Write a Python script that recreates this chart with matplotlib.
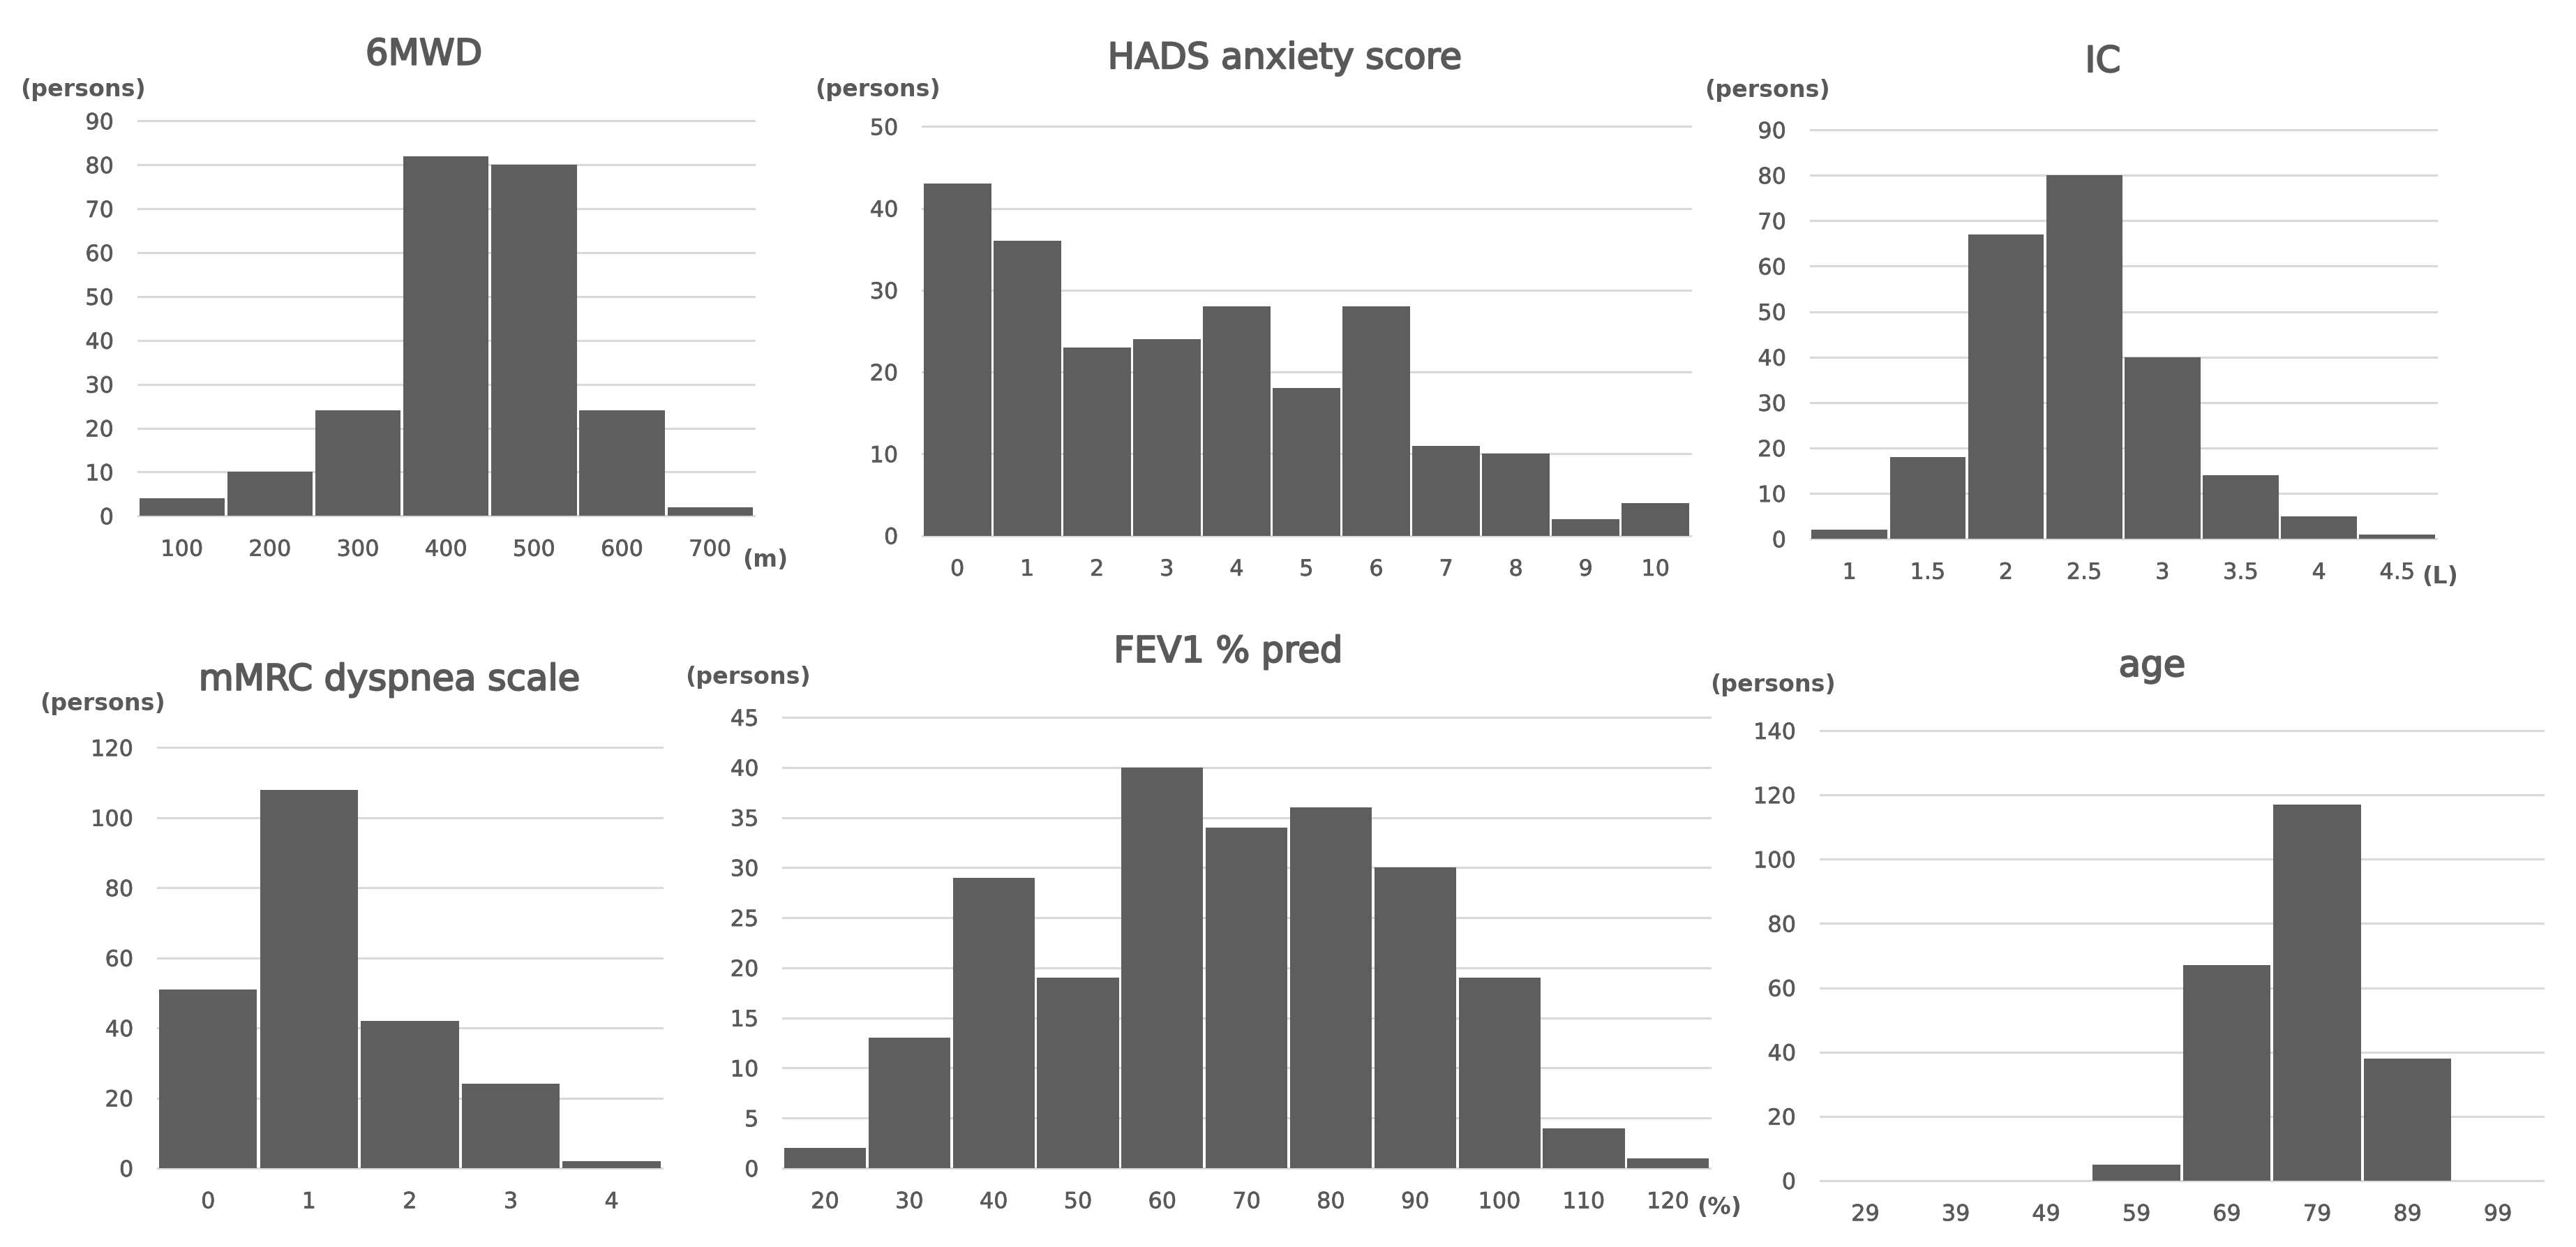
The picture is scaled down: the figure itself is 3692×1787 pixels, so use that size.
import matplotlib
matplotlib.use("Agg")
import matplotlib.pyplot as plt
import matplotlib.patheffects as pe
import numpy as np

# ---------------- data ----------------
mwd_labels = ["100", "200", "300", "400", "500", "600", "700"]
mwd_counts = [4, 10, 24, 82, 80, 24, 2]

hads_labels = ["0", "1", "2", "3", "4", "5", "6", "7", "8", "9", "10"]
hads_counts = [43, 36, 23, 24, 28, 18, 28, 11, 10, 2, 4]

ic_labels = ["1", "1.5", "2", "2.5", "3", "3.5", "4", "4.5"]
ic_counts = [2, 18, 67, 80, 40, 14, 5, 1]

mmrc_labels = ["0", "1", "2", "3", "4"]
mmrc_counts = [51, 108, 42, 24, 2]

fev_labels = ["20", "30", "40", "50", "60", "70", "80", "90", "100", "110", "120"]
fev_counts = [2, 13, 29, 19, 40, 34, 36, 30, 19, 4, 1]

age_labels = ["29", "39", "49", "59", "69", "79", "89", "99"]
age_counts = [0, 0, 0, 5, 67, 117, 38, 0]

# ---------------- style ----------------
BAR = "#5e5e5e"
GRID = "#d9d9d9"
TXT = "#595959"
plt.rcParams["font.family"] = ["DejaVu Sans"]

fig = plt.figure(figsize=(36.92, 17.87), dpi=100)
W, H = 1568.0, 759.0


def fx(x):
    return x / W


def fy(y):
    return 1 - y / H


title_fx = [pe.withStroke(linewidth=1.6, foreground=TXT)]
tick_fx = [pe.withStroke(linewidth=0.5, foreground=TXT)]

panels = [
    # title, labels, counts, ymax, step, L, R, T, B, title xy, persons xy, unit, unit xy
    ("6MWD", mwd_labels, mwd_counts, 90, 10, 84, 459, 73.6, 314, (258, 33.4), (12.5, 54.5), "(m)", (452, 341)),
    ("HADS anxiety score", hads_labels, hads_counts, 50, 10, 561.5, 1029, 77, 326, (782, 35.7), (496, 54.5), None, None),
    ("IC", ic_labels, ic_counts, 90, 10, 1102, 1483, 79, 328, (1280, 37.8), (1037.5, 55), "(L)", (1474, 351)),
    ("mMRC dyspnea scale", mmrc_labels, mmrc_counts, 120, 20, 96, 403, 455, 711, (237, 414), (24.4, 428.5), None, None),
    ("FEV1 % pred", fev_labels, fev_counts, 45, 5, 476.6, 1041, 436.6, 711, (747.6, 397), (417, 412), "(%)", (1033, 735)),
    ("age", age_labels, age_counts, 140, 20, 1108, 1548, 444.7, 718.6, (1310, 405.6), (1041, 416.8), None, None),
]

for (title, labels, counts, ymax, step, L, R, T, B, txy, pxy, unit, uxy) in panels:
    ax = fig.add_axes([fx(L), fy(B), (R - L) / W, (B - T) / H])
    n = len(labels)
    x = np.arange(n)
    ax.bar(x, counts, width=0.97, color=BAR, zorder=3)
    ax.set_xlim(-0.5, n - 0.5)
    ax.set_ylim(0, ymax)
    ax.set_yticks(np.arange(0, ymax + 0.1, step))
    ax.set_xticks(x)
    ax.set_xticklabels(labels)
    for s in ax.spines.values():
        s.set_visible(False)
    ax.yaxis.grid(True, color=GRID, lw=2.2, zorder=0)
    ax.set_axisbelow(True)
    for gl in ax.get_ygridlines():
        gl.set_clip_on(False)
    ax.tick_params(axis="both", length=0, labelsize=23, labelcolor=TXT)
    ax.tick_params(axis="y", pad=25)
    ax.tick_params(axis="x", pad=24)
    for lab in ax.get_xticklabels() + ax.get_yticklabels():
        lab.set_path_effects(tick_fx)
    ax.set_facecolor("none")
    fig.text(fx(txy[0]), fy(txy[1]), title, ha="center", va="center",
             fontsize=37, color=TXT, path_effects=title_fx)
    fig.text(fx(pxy[0]), fy(pxy[1]), "(persons)", ha="left", va="center",
             fontsize=24, color=TXT, fontweight="bold")
    if unit:
        fig.text(fx(uxy[0]), fy(uxy[1]), unit, ha="left", va="center",
                 fontsize=24, color=TXT, fontweight="bold")

fig.savefig("out.png", dpi=100, facecolor="white")
